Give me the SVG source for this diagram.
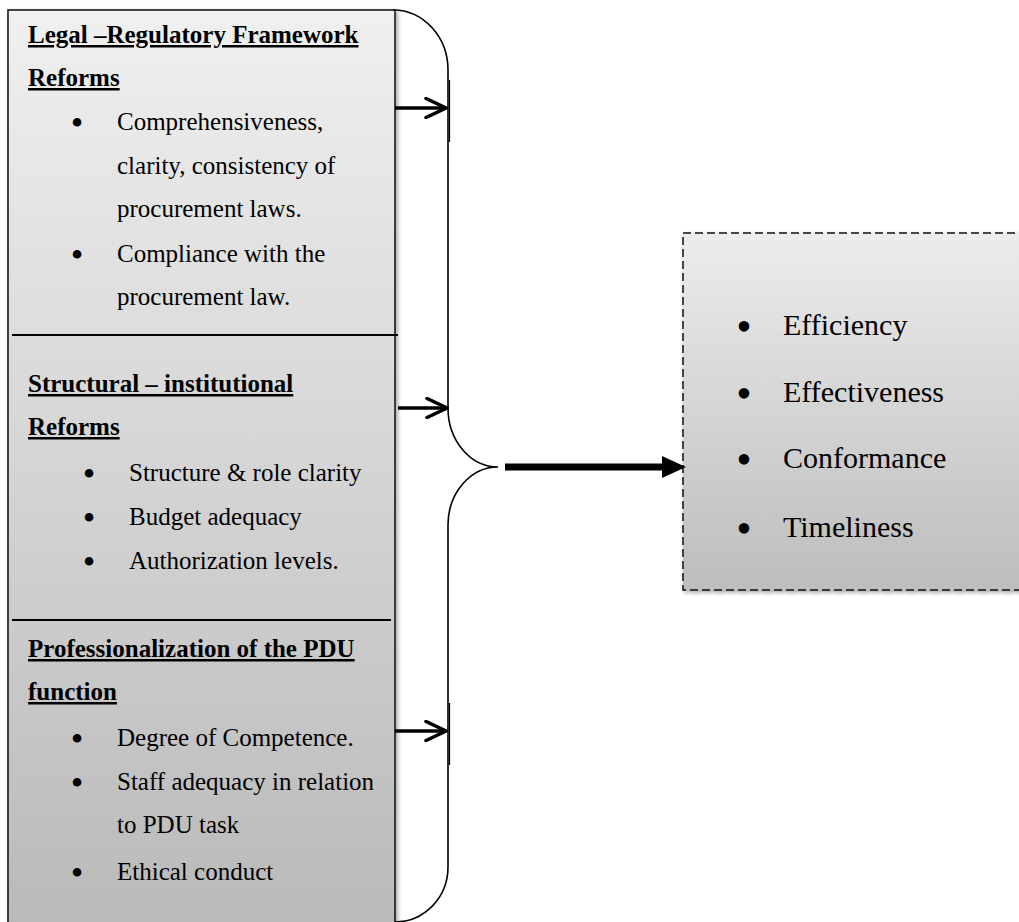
<svg xmlns="http://www.w3.org/2000/svg" width="1019" height="922" viewBox="0 0 1019 922">
<defs>
<linearGradient id="gLeft" x1="0" y1="0" x2="0" y2="1">
<stop offset="0" stop-color="#f0f0f0"/>
<stop offset="1" stop-color="#b9b9b9"/>
</linearGradient>
<linearGradient id="gRight" x1="0" y1="0" x2="0" y2="1">
<stop offset="0" stop-color="#ececec"/>
<stop offset="1" stop-color="#bdbdbd"/>
</linearGradient>
<filter id="sh" x="-5%" y="-5%" width="115%" height="115%">
<feDropShadow dx="2" dy="2" stdDeviation="2" flood-color="#000" flood-opacity="0.35"/>
</filter>
<marker id="openArrow" viewBox="0 0 24 22" refX="22" refY="11" markerWidth="24" markerHeight="22" markerUnits="userSpaceOnUse" orient="auto">
<path d="M2,1.5 L22,11 L2,20.5" fill="none" stroke="#000" stroke-width="3.5" stroke-linecap="round" stroke-linejoin="miter"/>
</marker>
<marker id="solidArrow" viewBox="0 0 24 22" refX="2" refY="11" markerWidth="24" markerHeight="22" markerUnits="userSpaceOnUse" orient="auto">
<path d="M0,0 L24,11 L0,22 Z" fill="#000"/>
</marker>
</defs>
<style>
.reg{font-family:"Liberation Serif","Times New Roman",serif;font-size:25px;fill:#000}
.head{font-family:"Liberation Serif","Times New Roman",serif;font-size:25px;font-weight:bold;text-decoration:underline;fill:#000}
.out{font-family:"Liberation Serif","Times New Roman",serif;font-size:30px;fill:#000}
.bul{font-family:"Liberation Serif","Times New Roman",serif;font-size:36px;fill:#000;text-anchor:middle}
.bulo{font-family:"Liberation Serif","Times New Roman",serif;font-size:44px;fill:#000;text-anchor:middle}
.div{stroke:#000;stroke-width:2}
.conn{fill:none;stroke:#000}
</style>

<g id="inputs">
<rect x="8" y="10" width="387" height="920" fill="url(#gLeft)" stroke="#1a1a1a" stroke-width="1.6" filter="url(#sh)"/>
<line class="div" x1="12" y1="335" x2="398" y2="335"/>
<line class="div" x1="12" y1="620" x2="391" y2="620"/>
</g>

<g id="legal">
<text class="head" x="28" y="43">Legal –Regulatory Framework</text>
<text class="head" x="28" y="86">Reforms</text>
<text class="bul" x="77" y="135">•</text>
<text class="reg" x="117" y="130">Comprehensiveness,</text>
<text class="reg" x="117" y="174">clarity, consistency of</text>
<text class="reg" x="117" y="217">procurement laws.</text>
<text class="bul" x="77" y="267">•</text>
<text class="reg" x="117" y="262">Compliance with the</text>
<text class="reg" x="117" y="305">procurement law.</text>
</g>

<g id="structural">
<text class="head" x="28" y="392">Structural – institutional</text>
<text class="head" x="28" y="435">Reforms</text>
<text class="bul" x="89" y="486">•</text>
<text class="reg" x="129" y="481">Structure &amp; role clarity</text>
<text class="bul" x="89" y="530">•</text>
<text class="reg" x="129" y="525">Budget adequacy</text>
<text class="bul" x="89" y="574">•</text>
<text class="reg" x="129" y="569">Authorization levels.</text>
</g>

<g id="professional">
<text class="head" x="28" y="657">Professionalization of the PDU</text>
<text class="head" x="28" y="700">function</text>
<text class="bul" x="77" y="751">•</text>
<text class="reg" x="117" y="746">Degree of Competence.</text>
<text class="bul" x="77" y="795">•</text>
<text class="reg" x="117" y="790">Staff adequacy in relation</text>
<text class="reg" x="117" y="833">to PDU task</text>
<text class="bul" x="77" y="885">•</text>
<text class="reg" x="117" y="880">Ethical conduct</text>
</g>

<g id="outcomes">
<rect x="683" y="233" width="345" height="357" fill="url(#gRight)" stroke="#111" stroke-width="1.5" stroke-dasharray="8,4" filter="url(#sh)"/>
<text class="bulo" x="744" y="341">•</text>
<text class="out" x="783" y="335">Efficiency</text>
<text class="bulo" x="744" y="408">•</text>
<text class="out" x="783" y="402">Effectiveness</text>
<text class="bulo" x="744" y="474">•</text>
<text class="out" x="783" y="468">Conformance</text>
<text class="bulo" x="744" y="543">•</text>
<text class="out" x="783" y="537">Timeliness</text>
</g>

<g id="connectors">
<path class="conn" stroke-width="1.6" d="M393,10 A55,60 0 0 1 448,70 L448,408 A50,59 0 0 0 498,467 A50,58 0 0 0 448,525 L448,867 A53,55 0 0 1 395,922"/>
<line class="conn" stroke-width="1.2" x1="449.5" y1="80" x2="449.5" y2="142"/>
<line class="conn" stroke-width="1.2" x1="449.5" y1="703" x2="449.5" y2="765"/>
<line class="conn" stroke-width="3.5" x1="395" y1="108" x2="446" y2="108" marker-end="url(#openArrow)"/>
<line class="conn" stroke-width="3.5" x1="398" y1="408" x2="447" y2="408" marker-end="url(#openArrow)"/>
<line class="conn" stroke-width="3.5" x1="395" y1="731" x2="446" y2="731" marker-end="url(#openArrow)"/>
<line class="conn" stroke-width="7" x1="505" y1="467" x2="664" y2="467" marker-end="url(#solidArrow)"/>
</g>
</svg>
